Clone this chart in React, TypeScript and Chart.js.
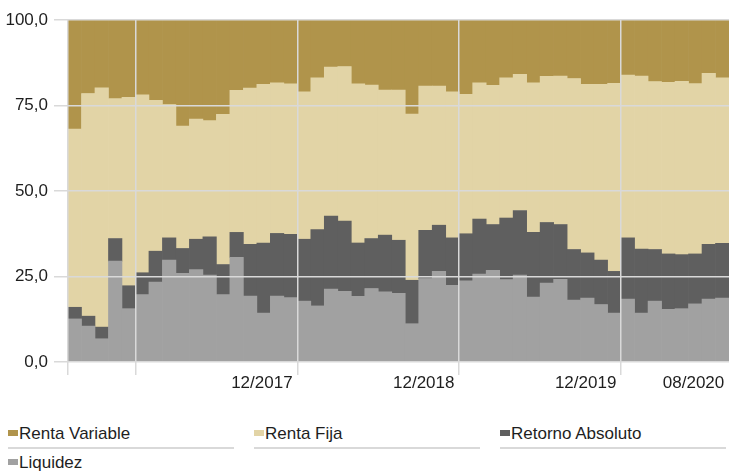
import React, { useEffect, useRef } from 'react';
import { Chart, registerables } from 'chart.js';

Chart.register(...registerables);

const months = [
  '08/2016', '09/2016', '10/2016', '11/2016', '12/2016',
  '01/2017', '02/2017', '03/2017', '04/2017', '05/2017', '06/2017', '07/2017', '08/2017', '09/2017', '10/2017', '11/2017', '12/2017',
  '01/2018', '02/2018', '03/2018', '04/2018', '05/2018', '06/2018', '07/2018', '08/2018', '09/2018', '10/2018', '11/2018', '12/2018',
  '01/2019', '02/2019', '03/2019', '04/2019', '05/2019', '06/2019', '07/2019', '08/2019', '09/2019', '10/2019', '11/2019', '12/2019',
  '01/2020', '02/2020', '03/2020', '04/2020', '05/2020', '06/2020', '07/2020', '08/2020',
];

const labeledMonths = ['12/2017', '12/2018', '12/2019', '08/2020'];
const gridMonths = ['08/2016', '01/2017', '01/2018', '01/2019', '01/2020'];

const yTicks = [0, 25, 50, 75, 100];

const liquidez = [
  12.6, 10.5, 6.8, 29.5, 15.6,
  19.7, 23.4, 29.8, 25.9, 27.0, 25.4, 19.7, 30.6, 19.3, 14.3, 19.3, 18.8,
  17.8, 16.4, 21.3, 20.7, 19.2, 21.5, 20.5, 20.1, 11.2, 24.4, 26.5, 22.4,
  23.7, 25.7, 26.8, 24.1, 25.4, 19.0, 23.1, 24.2, 18.1, 18.7, 16.8, 14.3,
  18.4, 14.3, 17.8, 15.4, 15.6, 17.0, 18.4, 18.7,
];

const retornoAbsoluto = [
  3.4, 2.9, 3.4, 6.6, 6.7,
  6.4, 9.0, 6.5, 7.3, 8.9, 11.2, 8.8, 7.3, 15.1, 20.5, 18.3, 18.5,
  18.1, 22.3, 21.4, 20.5, 15.6, 14.6, 16.6, 15.5, 12.7, 14.1, 13.5, 13.9,
  13.8, 16.1, 13.4, 18.0, 18.9, 18.9, 17.7, 16.0, 14.8, 13.2, 13.0, 12.2,
  17.9, 18.7, 15.1, 16.2, 15.8, 14.6, 16.0, 16.0,
];

const rentaFija = [
  52.1, 65.1, 70.0, 40.9, 55.1,
  52.0, 44.1, 39.0, 35.8, 35.1, 34.0, 43.9, 41.5, 45.7, 46.4, 44.0, 44.0,
  43.1, 44.4, 43.5, 45.2, 46.5, 44.9, 42.4, 43.9, 48.6, 42.2, 40.7, 42.7,
  40.8, 39.8, 40.7, 41.0, 39.8, 43.7, 42.7, 43.4, 50.0, 49.3, 51.4, 55.0,
  47.6, 50.6, 49.1, 50.2, 50.7, 49.8, 50.0, 48.4,
];

const rentaVariable = [
  31.9, 21.5, 19.8, 23.0, 22.6,
  21.9, 23.5, 24.7, 31.0, 29.0, 29.4, 27.6, 20.6, 19.9, 18.8, 18.4, 18.7,
  21.0, 16.9, 13.8, 13.6, 18.7, 19.0, 20.5, 20.5, 27.5, 19.3, 19.3, 21.0,
  21.7, 18.4, 19.1, 16.9, 15.9, 18.4, 16.5, 16.4, 17.1, 18.8, 18.8, 18.5,
  16.1, 16.4, 18.0, 18.2, 17.9, 18.6, 15.6, 16.9,
];

const FONT = "'Liberation Sans', Arial, sans-serif";
const FONT_SIZE = 17;
const GRID = '#d9d9d9';
const TEXT = '#1e1e1e';

// stacking order: bottom first
const series = [
  { name: 'Liquidez', data: liquidez, color: '#a1a1a1' },
  { name: 'Retorno Absoluto', data: retornoAbsoluto, color: '#5f5f5f' },
  { name: 'Renta Fija', data: rentaFija, color: '#e2d4a6' },
  { name: 'Renta Variable', data: rentaVariable, color: '#b0944b' },
];

const legendOrder = ['Renta Variable', 'Renta Fija', 'Retorno Absoluto', 'Liquidez'];

function Legend() {
  const items = legendOrder.map((n) => series.find((s) => s.name === n)!);
  return (
    <div
      style={{
        position: 'absolute',
        left: 8,
        top: 424,
        display: 'grid',
        gridTemplateColumns: '226px 226px 226px',
        columnGap: 20,
        rowGap: 4,
        fontFamily: FONT,
        fontSize: FONT_SIZE,
        color: TEXT,
      }}
    >
      {items.map((s) => (
        <div
          key={s.name}
          style={{
            position: 'relative',
            height: 20,
            lineHeight: '20px',
            paddingLeft: 11,
            paddingBottom: 3,
            borderBottom: `2px solid ${GRID}`,
            whiteSpace: 'nowrap',
          }}
        >
          <span
            style={{
              position: 'absolute',
              left: 0,
              top: 6,
              width: 10,
              height: 6,
              background: s.color,
            }}
          />
          {s.name}
        </div>
      ))}
    </div>
  );
}

export default function App() {
  const ref = useRef<HTMLCanvasElement>(null);

  useEffect(() => {
    if (!ref.current) return;
    const chart = new Chart(ref.current, {
      type: 'bar',
      data: {
        labels: months,
        datasets: series.map((s) => ({
          label: s.name,
          data: s.data,
          backgroundColor: s.color,
          borderWidth: 0,
          barPercentage: 1,
          categoryPercentage: 1,
        })),
      },
      options: {
        responsive: false,
        animation: false,
        layout: { padding: { top: 20, left: 0, right: 0, bottom: 0 } },
        plugins: {
          legend: { display: false },
          tooltip: { enabled: false },
        },
        scales: {
          x: {
            type: 'category',
            stacked: true,
            offset: true,
            border: { display: false },
            grid: {
              offset: true,
              z: 1,
              lineWidth: 1.5,
              tickLength: 13,
              color: (ctx: any) => {
                const m = months[ctx.index];
                return m !== undefined && gridMonths.includes(m) ? GRID : 'rgba(0,0,0,0)';
              },
            },
            ticks: {
              autoSkip: false,
              maxRotation: 0,
              minRotation: 0,
              align: 'end',
              labelOffset: 2,
              padding: 0,
              color: TEXT,
              font: { family: FONT, size: FONT_SIZE, lineHeight: 1 },
              callback: (_v: any, i: number) => (labeledMonths.includes(months[i]) ? months[i] : ''),
            },
            afterFit: (scale: any) => {
              scale.height = 38;
            },
          },
          y: {
            stacked: true,
            min: 0,
            max: 100,
            border: { display: false },
            grid: {
              z: 1,
              lineWidth: 1.5,
              tickLength: 14,
              color: GRID,
            },
            afterBuildTicks: (scale: any) => {
              scale.ticks = yTicks.map((v) => ({ value: v }));
            },
            ticks: {
              padding: 6,
              color: TEXT,
              font: { family: FONT, size: FONT_SIZE },
              callback: (v: any) => Number(v).toFixed(1).replace('.', ','),
            },
            afterFit: (scale: any) => {
              scale.width = 68;
            },
          },
        },
      },
    } as any);
    return () => chart.destroy();
  }, []);

  return (
    <div style={{ position: 'absolute', left: 0, top: 0, width: 729, height: 472, background: '#fff', overflow: 'hidden' }}>
      <canvas ref={ref} width={729} height={400} style={{ display: 'block', position: 'absolute', left: 0, top: 0 }} />
      <Legend />
    </div>
  );
}
